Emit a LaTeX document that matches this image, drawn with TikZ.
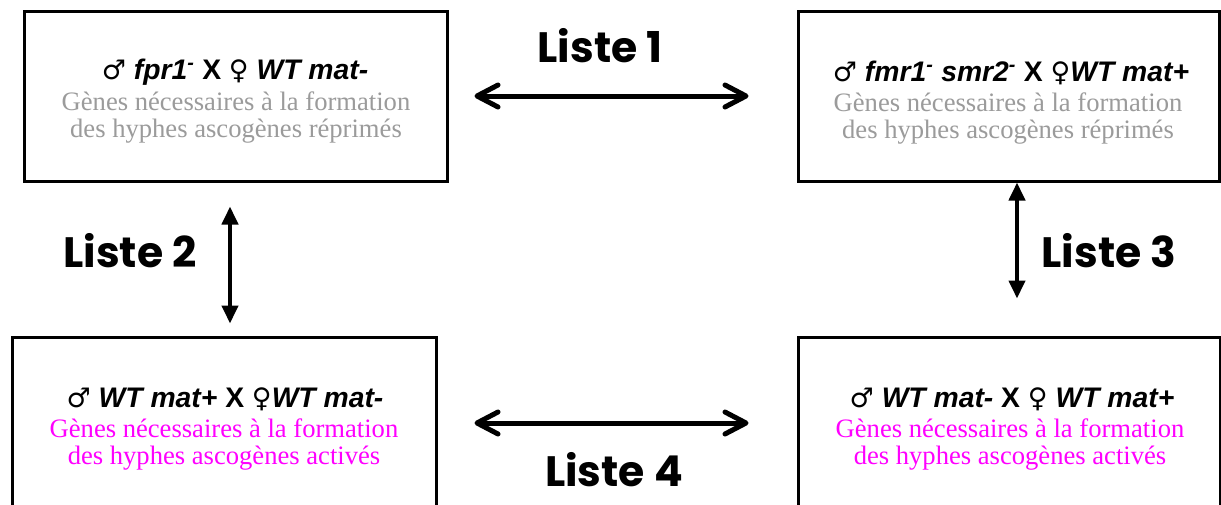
\documentclass[tikz,border=0pt]{standalone}
\usepackage{fontspec}
\setmainfont{Liberation Serif}
\newfontfamily\titlefont{Liberation Sans}
\newfontfamily\symfont{DejaVu Sans}
\newfontfamily\listefont{Poppins}
\usetikzlibrary{arrows.meta}
\definecolor{txtgrey}{RGB}{155,155,155}
\definecolor{txtmag}{RGB}{255,0,255}
\tikzset{
  box/.style={draw=black, line width=3pt, rectangle, inner sep=0pt},
  title/.style={anchor=base, inner sep=0pt, font=\fontsize{28.3}{30}\titlefont\bfseries},
  desc/.style={anchor=base, inner sep=0pt, font=\fontsize{26.6}{27}\selectfont},
  liste/.style={anchor=base, inner sep=0pt, font=\fontsize{42.5}{44}\listefont\bfseries},
  harrow/.style={line width=5pt, line cap=round, {Straight Barb[length=21pt,width=22pt,round]}-{Straight Barb[length=21pt,width=22pt,round]}},
  varrow/.style={line width=4pt, {Triangle[length=18pt,width=16pt]}-{Triangle[length=18pt,width=16pt]}}
}
\newcommand{\male}{{\fontsize{27}{27}\symfont\mdseries\upshape ♂}}
\newcommand{\female}{{\fontsize{27}{27}\symfont\mdseries\upshape ♀}}
\begin{document}
\begin{tikzpicture}[x=1pt,y=-1pt]
\useasboundingbox (0,0) rectangle (1221,504);
\fill[white] (0,0) rectangle (1221,504);
% boxes
\node[box, minimum width=423pt, minimum height=170pt] (tl) at (235.5,96) {};
\node[box, minimum width=421pt, minimum height=170pt] (tr) at (1008.5,96) {};
\node[box, minimum width=424pt, minimum height=172pt] (bl) at (224,423) {};
\node[box, minimum width=422pt, minimum height=172pt] (br) at (1009,423) {};
% texts top left
\node[title] (tlt) at (235,79) {\male\ {\itshape fpr1\textsuperscript{-}} X \female\ {\itshape WT mat-}};
\node[desc, text=txtgrey] (tl1) at (236,110) {Gènes nécessaires à la formation};
\node[desc, text=txtgrey] (tl2) at (236,137) {des hyphes ascogènes réprimés};
% top right
\node[title] (trt) at (1011,81) {\male\ {\itshape fmr1\textsuperscript{-} smr2\textsuperscript{-}} X \female{\itshape WT mat+}};
\node[desc, text=txtgrey] (tr1) at (1008,111) {Gènes nécessaires à la formation};
\node[desc, text=txtgrey] (tr2) at (1008,138) {des hyphes ascogènes réprimés};
% bottom left
\node[title] (blt) at (225,407) {\male\ {\itshape WT mat+} X \female{\itshape WT mat-}};
\node[desc, text=txtmag] (bl1) at (224,437) {Gènes nécessaires à la formation};
\node[desc, text=txtmag] (bl2) at (224,464) {des hyphes ascogènes activés};
% bottom right
\node[title] (brt) at (1012,407) {\male\ {\itshape WT mat-} X \female\ {\itshape WT mat+}};
\node[desc, text=txtmag] (br1) at (1010,437) {Gènes nécessaires à la formation};
\node[desc, text=txtmag] (br2) at (1010,464) {des hyphes ascogènes activés};
% labels
\node[liste] (l1) at (600,62) {Liste 1};
\node[liste] (l2) at (130,267) {Liste 2};
\node[liste] (l3) at (1109,267) {Liste 3};
\node[liste] (l4) at (614,486) {Liste 4};
% arrows
\coordinate (lx) at (230,0);
\coordinate (rx) at (1017,0);
\draw[harrow, shorten <=26pt, shorten >=48pt] (tl.east) -- (tr.west);
\draw[harrow, shorten <=37pt, shorten >=48pt] (bl.east) -- (br.west);
\draw[varrow, shorten <=24pt, shorten >=12pt] (tl.south -| lx) -- (bl.north -| lx);
\draw[varrow, shorten <=0pt, shorten >=37pt] (tr.south -| rx) -- (br.north -| rx);
\end{tikzpicture}
\end{document}
